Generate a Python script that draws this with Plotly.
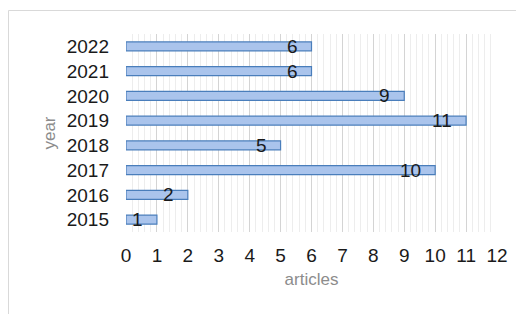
import plotly.graph_objects as go

years = ["2015", "2016", "2017", "2018", "2019", "2020", "2021", "2022"]
articles = [1, 2, 10, 5, 11, 9, 6, 6]
x_ticks = list(range(0, 13))

# page body has an 8px offset, margins compensate for it
L, R, T, B = 118, 35, 26, 90
W, H = 524, 314
pw, ph = W - L - R, H - T - B

fig = go.Figure()
fig.add_trace(go.Bar(
    y=years, x=articles, orientation="h",
    marker=dict(color="#aac4ec", line=dict(color="#4a7ebb", width=1.2)),
    width=0.36, hoverinfo="x+y",
))

# data labels (category index positions on the y axis)
for i, v in enumerate(articles):
    fig.add_annotation(x=v, y=i, text=str(v), showarrow=False,
                       xanchor="right", xshift=-12, yshift=0,
                       font=dict(family="Liberation Sans, Arial", size=19, color="#1a1a1a"))

# outer frame: only top and left edges are visible in the source
fx0 = (0.5 - L) / pw
fx1 = (W + 20 - L) / pw
fy_top = (H - B - 2.5) / ph
fy_bot = (H - B - (H + 20)) / ph
for x0, y0, x1, y1 in [(fx0, fy_top, fx1, fy_top), (fx0, fy_bot, fx0, fy_top)]:
    fig.add_shape(type="line", xref="paper", yref="paper",
                  x0=x0, y0=y0, x1=x1, y1=y1,
                  line=dict(color="#d9d9d9", width=1), layer="below")

fig.update_layout(
    width=W, height=H,
    margin=dict(l=L, r=R, t=T, b=B, autoexpand=False),
    paper_bgcolor="white", plot_bgcolor="white",
    showlegend=False,
    font=dict(family="Liberation Sans, Arial", size=19, color="#1a1a1a"),
    xaxis=dict(
        range=[0, 12], tickvals=x_ticks, ticktext=[str(t) for t in x_ticks],
        showgrid=True, gridcolor="#d4d4d4", gridwidth=1,
        minor=dict(dtick=0.2, showgrid=True, gridcolor="#ededed", gridwidth=1),
        zeroline=False, showline=False, ticks="", ticklabelstandoff=10,
        tickfont=dict(size=19, color="#1a1a1a"),
        title=dict(text="articles", font=dict(size=17, color="#8c8c8c"), standoff=8),
        automargin=False,
        fixedrange=True,
    ),
    yaxis=dict(
        type="category",
        categoryorder="array", categoryarray=years,
        range=[-0.5, len(years) - 0.5],
        showgrid=False, zeroline=False, showline=False, ticks="",
        ticklabelstandoff=16,
        tickfont=dict(size=19, color="#1a1a1a"),
        title=dict(text="year", font=dict(size=17, color="#8c8c8c"), standoff=6),
        automargin=False,
        fixedrange=True,
    ),
    bargap=0.64,
)

fig.write_html("out.html")
